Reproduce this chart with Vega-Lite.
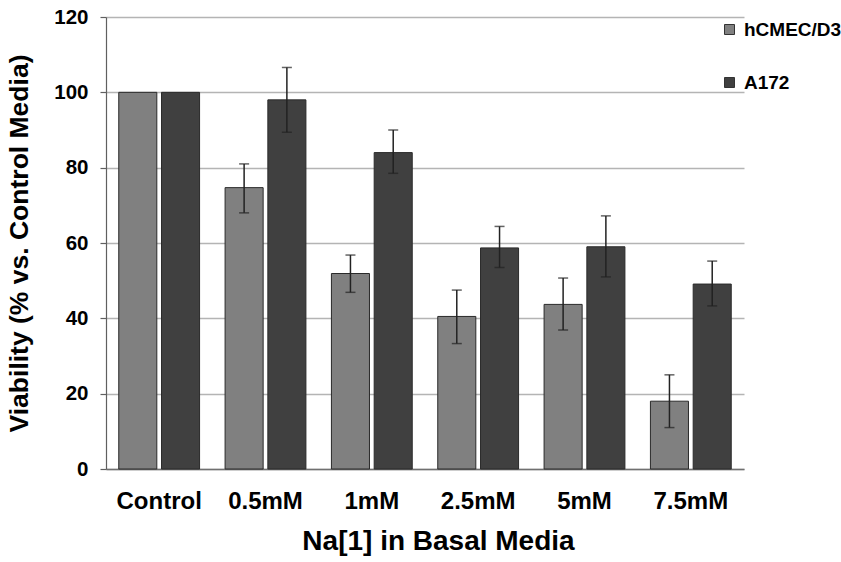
{
  "$schema": "https://vega.github.io/schema/vega-lite/v6.json",
  "autosize": {"type": "none"},
  "padding": {"left": 106, "top": 17, "right": 97, "bottom": 93},
  "width": 638,
  "height": 452,
  "background": "white",
  "config": {
    "view": {"stroke": null},
    "font": "Liberation Sans"
  },
  "data": {
    "values": [
      {"cat": "Control", "series": "hCMEC/D3", "v": 100, "lo": null, "hi": null},
      {"cat": "Control", "series": "A172", "v": 100, "lo": null, "hi": null},
      {"cat": "0.5mM", "series": "hCMEC/D3", "v": 74.7, "lo": 68.0, "hi": 81.0},
      {"cat": "0.5mM", "series": "A172", "v": 98.0, "lo": 89.4, "hi": 106.6},
      {"cat": "1mM", "series": "hCMEC/D3", "v": 51.9, "lo": 46.9, "hi": 56.8},
      {"cat": "1mM", "series": "A172", "v": 84.0, "lo": 78.5, "hi": 90.0},
      {"cat": "2.5mM", "series": "hCMEC/D3", "v": 40.5, "lo": 33.3, "hi": 47.5},
      {"cat": "2.5mM", "series": "A172", "v": 58.7, "lo": 53.5, "hi": 64.4},
      {"cat": "5mM", "series": "hCMEC/D3", "v": 43.7, "lo": 36.9, "hi": 50.7},
      {"cat": "5mM", "series": "A172", "v": 59.0, "lo": 51.0, "hi": 67.2},
      {"cat": "7.5mM", "series": "hCMEC/D3", "v": 18.0, "lo": 11.0, "hi": 25.0},
      {"cat": "7.5mM", "series": "A172", "v": 49.1, "lo": 43.3, "hi": 55.2}
    ]
  },
  "encoding": {
    "x": {
      "field": "cat",
      "type": "nominal",
      "sort": ["Control", "0.5mM", "1mM", "2.5mM", "5mM", "7.5mM"],
      "scale": {"paddingInner": 0.24, "paddingOuter": 0.12},
      "axis": {
        "title": "Na[1] in Basal Media",
        "titleFont": "Liberation Sans",
        "titleFontSize": 28,
        "titleFontWeight": "bold",
        "titleColor": "black",
        "titlePadding": 14,
        "titleX": 332,
        "labelFont": "Liberation Sans",
        "labelFontSize": 24,
        "labelFontWeight": "bold",
        "labelColor": "black",
        "labelAngle": 0,
        "labelPadding": 20,
        "ticks": false,
        "domainColor": "#707070",
        "domainWidth": 1.5
      }
    },
    "xOffset": {
      "field": "series",
      "type": "nominal",
      "sort": ["hCMEC/D3", "A172"],
      "scale": {"paddingInner": 0.11, "paddingOuter": 0}
    }
  },
  "layer": [
    {
      "mark": {"type": "bar", "stroke": "#2a2a2a", "strokeWidth": 1},
      "encoding": {
        "y": {
          "field": "v",
          "type": "quantitative",
          "scale": {"domain": [0, 120], "nice": false},
          "axis": {
            "values": [0, 20, 40, 60, 80, 100, 120],
            "title": "Viability (% vs. Control Media)",
            "titleFont": "Liberation Sans",
            "titleFontSize": 26.5,
            "titleFontWeight": "bold",
            "titleColor": "black",
            "titlePadding": 20,
            "labelFont": "Liberation Sans",
            "labelFontSize": 20.5,
            "labelFontWeight": "bold",
            "labelColor": "black",
            "labelPadding": 12,
            "tickSize": 6,
            "tickColor": "#606060",
            "tickWidth": 1.2,
            "domainColor": "#606060",
            "domainWidth": 1.2,
            "grid": true,
            "gridColor": "#b4b4b4",
            "gridWidth": 1.5
          }
        },
        "color": {
          "field": "series",
          "type": "nominal",
          "sort": ["hCMEC/D3", "A172"],
          "scale": {"domain": ["hCMEC/D3", "A172"], "range": ["#808080", "#404040"]},
          "legend": {
            "title": null,
            "orient": "none",
            "legendX": 614,
            "legendY": 3,
            "padding": 0,
            "symbolType": "square",
            "symbolSize": 100,
            "symbolStrokeColor": "#333333",
            "symbolStrokeWidth": 1,
            "labelFont": "Liberation Sans",
            "labelFontSize": 19,
            "labelFontWeight": "bold",
            "labelColor": "black",
            "labelOffset": 5,
            "rowPadding": 33
          }
        }
      }
    },
    {
      "transform": [{"filter": "datum.lo != null"}],
      "mark": {"type": "rule", "color": "#222222", "strokeWidth": 1.5},
      "encoding": {
        "y": {"field": "lo", "type": "quantitative"},
        "y2": {"field": "hi"}
      }
    },
    {
      "transform": [{"filter": "datum.lo != null"}],
      "mark": {"type": "tick", "orient": "horizontal", "color": "#222222", "size": 10, "thickness": 1.5},
      "encoding": {
        "y": {"field": "lo", "type": "quantitative"}
      }
    },
    {
      "transform": [{"filter": "datum.hi != null"}],
      "mark": {"type": "tick", "orient": "horizontal", "color": "#222222", "size": 10, "thickness": 1.5},
      "encoding": {
        "y": {"field": "hi", "type": "quantitative"}
      }
    }
  ]
}
